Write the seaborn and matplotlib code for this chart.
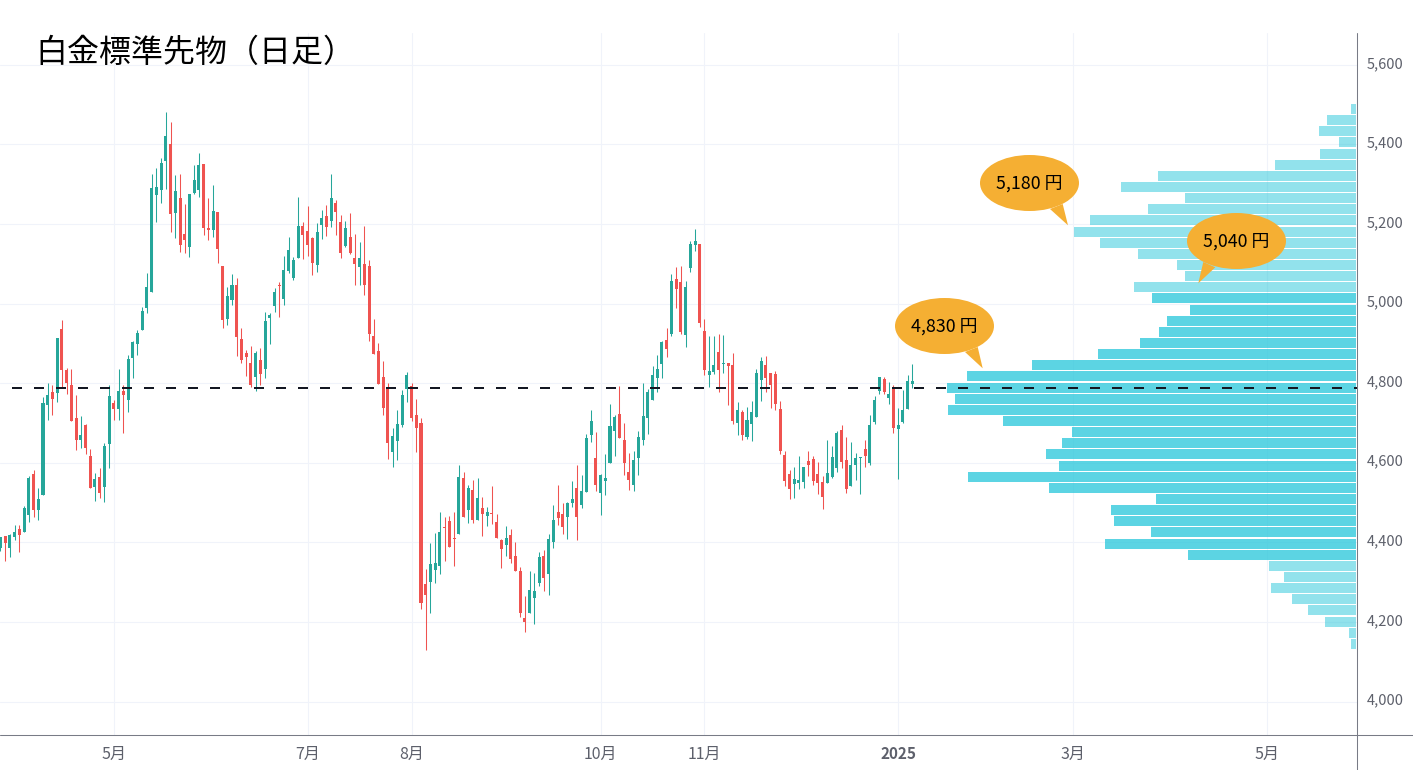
import pandas as pd
import seaborn as sns
import matplotlib.pyplot as plt
from matplotlib.patches import Ellipse, Polygon
from matplotlib.transforms import ScaledTranslation

opens = [4386,4415,4386,4414,4433,4425,4468,4571,4481,4518,
         4745,4777,4775,4936,4832,4795,4712,4657,4694,4616,
         4539,4564,4539,4647,4750,4735,4780,4757,4863,4898,
         4933,4988,5028,5272,5285,5358,5400,5227,5265,5174,
         5142,5277,5285,5350,5189,5184,5229,5094,4961,5008,
         5046,4910,4875,4850,4815,4858,4835,4963,4993,5046,
         5011,5081,5064,5114,5194,5182,5164,5096,5197,5219,
         5207,5252,5204,5144,5167,5114,5091,5099,5094,4918,
         4880,4815,4787,4626,4654,4694,4785,4792,4719,4699,
         4295,4300,4330,4340,4438,4453,4410,4420,4561,4481,
         4531,4456,4486,4466,4473,4451,4405,4393,4418,4365,
         4327,4209,4222,4260,4297,4365,4320,4400,4476,4471,
         4463,4498,4536,4493,4526,4669,4611,4523,4554,4599,
         4679,4722,4657,4576,4544,4611,4657,4712,4757,4812,
         4848,4908,4923,5061,5054,4920,5089,5147,5149,4930,
         4820,4827,4878,4848,4850,4845,4699,4727,4664,4697,
         4714,4807,4845,4825,4822,4735,4619,4571,4546,4549,
         4551,4604,4609,4571,4551,4549,4564,4586,4682,4606,
         4541,4594,4611,4634,4599,4702,4780,4810,4762,4790,
         4684,4702,4735,4797]
highs = [4413,4415,4420,4443,4443,4491,4566,4581,4536,4765,
         4800,4795,4913,4958,4838,4835,4770,4717,4697,4634,
         4574,4586,4649,4795,4757,4835,4795,4870,4905,4933,
         4991,5076,5325,5340,5365,5481,5456,5322,5325,5250,
         5275,5348,5378,5350,5265,5297,5229,5094,5041,5074,
         5064,4938,4883,4893,4880,4888,4978,4976,5039,5054,
         5119,5167,5116,5267,5204,5245,5167,5202,5235,5247,
         5325,5260,5222,5207,5227,5174,5154,5194,5109,4961,
         4900,4855,4800,4687,4732,4782,4827,4800,4760,4712,
         4333,4398,4423,4476,4463,4466,4476,4594,4576,4544,
         4556,4561,4513,4488,4541,4471,4408,4441,4433,4400,
         4338,4265,4327,4322,4375,4380,4420,4493,4544,4498,
         4501,4554,4594,4569,4672,4732,4677,4571,4621,4747,
         4719,4792,4699,4624,4629,4679,4800,4785,4843,4870,
         4905,4938,5074,5091,5094,5056,5157,5187,5149,4961,
         4918,4918,4923,4920,4850,4875,4752,4732,4740,4755,
         4835,4865,4868,4825,4830,4755,4629,4581,4589,4616,
         4589,4629,4616,4601,4566,4657,4642,4679,4694,4664,
         4652,4624,4614,4657,4719,4767,4815,4815,4802,4795,
         4737,4782,4820,4848]
lows = [4379,4353,4364,4405,4376,4425,4451,4463,4456,4518,
        4707,4719,4752,4787,4772,4704,4632,4637,4621,4536,
        4503,4511,4501,4586,4707,4707,4674,4727,4812,4870,
        4933,4976,5028,5204,5252,5287,5179,5164,5129,5126,
        5116,5275,5267,5172,5159,5167,5101,4938,4946,4996,
        4868,4850,4817,4790,4780,4795,4812,4898,4978,4966,
        4996,5076,5059,5114,5111,5119,5071,5079,5162,5169,
        5192,5172,5114,5142,5124,5046,5046,5021,4905,4873,
        4797,4719,4609,4589,4606,4689,4752,4704,4626,4232,
        4129,4222,4297,4320,4353,4388,4340,4420,4463,4448,
        4448,4456,4415,4441,4446,4410,4335,4365,4348,4327,
        4212,4174,4222,4194,4290,4277,4267,4385,4443,4420,
        4408,4488,4405,4486,4526,4652,4528,4468,4518,4599,
        4616,4662,4569,4531,4528,4569,4644,4672,4757,4777,
        4812,4865,4918,4988,4923,4890,5079,5131,4941,4820,
        4790,4822,4777,4825,4745,4697,4669,4657,4659,4654,
        4714,4755,4777,4737,4732,4621,4541,4508,4511,4534,
        4536,4566,4544,4521,4483,4549,4561,4576,4586,4523,
        4541,4556,4521,4589,4594,4697,4772,4772,4747,4674,
        4559,4699,4735,4787]
closes = [4413,4399,4418,4425,4418,4486,4561,4481,4508,4750,
          4770,4760,4913,4832,4800,4704,4657,4669,4637,4536,
          4559,4523,4642,4767,4735,4780,4770,4860,4903,4925,
          4981,5041,5290,5292,5353,5420,5224,5282,5147,5159,
          5275,5310,5348,5189,5184,5232,5137,4958,5018,5046,
          4915,4858,4865,4795,4875,4822,4956,4971,5028,5044,
          5084,5134,5109,5194,5172,5147,5101,5179,5214,5192,
          5265,5229,5126,5189,5126,5099,5114,5046,4923,4873,
          4797,4737,4649,4667,4697,4770,4820,4712,4687,4247,
          4267,4345,4348,4425,4436,4388,4408,4564,4463,4536,
          4456,4511,4471,4476,4471,4410,4383,4410,4358,4327,
          4222,4199,4280,4277,4363,4310,4408,4456,4461,4438,
          4498,4508,4463,4528,4662,4704,4544,4569,4561,4692,
          4714,4662,4599,4556,4606,4664,4717,4777,4820,4835,
          4903,4885,5056,5036,4928,5041,5149,5157,4951,4832,
          4830,4845,4832,4850,4843,4704,4732,4669,4707,4727,
          4825,4855,4812,4795,4747,4629,4554,4534,4559,4556,
          4589,4594,4554,4549,4513,4574,4614,4674,4601,4534,
          4594,4611,4614,4616,4694,4757,4815,4777,4772,4687,
          4694,4732,4805,4805]

# Volume profile, top row first
profile_prices = [5489,5461,5433,5405,5377,5349,5321,5293,5265,5237,
                  5209,5181,5153,5125,5097,5069,5041,5013,4985,4957,
                  4929,4901,4873,4845,4817,4789,4761,4733,4705,4677,
                  4649,4621,4593,4565,4537,4509,4481,4453,4425,4397,
                  4369,4341,4313,4285,4257,4229,4201,4173,4145]
profile_volumes = [5.3,29.3,37.3,17.3,36.3,81.3,198.3,235.3,171.3,208.3,
                   266.3,282.3,256.3,218.3,179.3,171.3,222.3,204.3,166.3,189.3,
                   197.3,216.3,258.3,324.3,389.3,409.3,401.3,408.3,353.3,284.3,
                   294.3,310.3,297.3,388.3,307.3,200.3,245.3,242.3,205.3,251.3,
                   168.3,87.3,72.3,85.3,64.3,48.3,31.3,7.3,5.3]
value_area = [False]*17 + [True]*24 + [False]*8

month_pos = [25, 66, 88, 128, 150, 191, 228, 269]
month_labels = ["5月", "7月", "8月", "10月", "11月", "2025", "3月", "5月"]
price_ticks = [4000, 4200, 4400, 4600, 4800, 5000, 5200, 5400, 5600]
support_level = 4788
callout_labels = ["5,180 円", "5,040 円", "4,830 円"]

UP = "#26a69a"
DOWN = "#ef5350"
GRID = "#f0f3fa"
AXIS = "#787b86"
TEXT = "#5d606b"
GOLD = "#f5af33"

sns.set_theme(style="white")
plt.rcParams["font.family"] = ["Noto Sans CJK JP", "DejaVu Sans"]

df = pd.DataFrame({"open": opens, "high": highs, "low": lows, "close": closes})
df["x"] = range(1, len(df) + 1)
df["color"] = [UP if c >= o else DOWN for o, c in zip(df["open"], df["close"])]

profile = pd.DataFrame({"price": profile_prices, "volume": profile_volumes, "inside": value_area})

fig = plt.figure(figsize=(14.13, 7.7), dpi=100)
ax = fig.add_axes([0, 35 / 770, 1357 / 1413, 702 / 770])

# candles
ax.vlines(df["x"], df["low"], df["high"], colors=df["color"], linewidth=0.75, zorder=3)
ax.bar(df["x"], (df["close"] - df["open"]).abs(), bottom=df[["open", "close"]].min(axis=1),
       width=0.64, color=df["color"], linewidth=0, zorder=4)

ax.set_xlim(0.9, 288.1)
ax.set_ylim(3916, 5680)
ax.set_xticks(month_pos)
ax.set_xticklabels(month_labels)
ax.set_yticks(price_ticks)
ax.set_yticklabels([f"{p:,}" for p in price_ticks])
ax.yaxis.tick_right()
ax.tick_params(axis="x", length=0, pad=8, labelsize=11.5, labelcolor=TEXT)
ax.tick_params(axis="y", length=0, pad=7, labelsize=10.5, labelcolor=TEXT)
ax.get_xticklabels()[5].set_fontweight("bold")
ax.get_xticklabels()[5].set_fontsize(11)
nudge = ScaledTranslation(0, 2.5 / 100, fig.dpi_scale_trans)
for label in ax.get_yticklabels():
    label.set_transform(label.get_transform() + nudge)
ax.grid(True, color=GRID, linewidth=0.75)
ax.set_axisbelow(True)
sns.despine(ax=ax, left=True, bottom=True, right=True, top=True)

# volume profile hangs off the right edge
ax2 = ax.twiny()
ax2.patch.set_visible(False)
sns.barplot(data=profile[profile["inside"]], x="volume", y="price", orient="y", native_scale=True,
            color="#26c6da", saturation=1, alpha=0.75, width=0.9, linewidth=0, ax=ax2)
sns.barplot(data=profile[~profile["inside"]], x="volume", y="price", orient="y", native_scale=True,
            color="#26c6da", saturation=1, alpha=0.5, width=0.9, linewidth=0, ax=ax2)
ax2.set_xlim(1356.3, -0.7)
ax2.set_ylim(3916, 5680)
ax2.set_xticks([])
ax2.set_xlabel("")
ax2.set_ylabel("")
ax2.yaxis.tick_right()
ax2.tick_params(axis="y", right=False, labelright=False)
sns.despine(ax=ax2, left=True, bottom=True, right=True, top=True)
ax2.axhline(support_level, xmin=12 / 1357, xmax=1, color="#131722", linewidth=1.44, dashes=(5, 6), zorder=6)

# overlay in pixel coordinates for axis lines, title and callouts
over = fig.add_axes([0, 0, 1, 1], zorder=10)
over.set_xlim(0, 1413)
over.set_ylim(770, 0)
over.axis("off")
over.plot([1357, 1357], [33, 770], color=AXIS, linewidth=0.75)
over.plot([0, 1413], [735, 735], color=AXIS, linewidth=0.75)
over.text(35, 53, "白金標準先物（日足）", fontsize=23, color="black", va="center", ha="left")

bubbles = [((1029.5, 183), [(1050, 209), (1062.7, 204), (1068, 225.3)]),
           ((1236.5, 241), [(1203.3, 262), (1215.3, 267.3), (1198.3, 283.3)]),
           ((944.5, 326), [(965, 352), (977.7, 347), (982.7, 368.3)])]
for (center, tail), label in zip(bubbles, callout_labels):
    over.add_patch(Ellipse(center, 99, 56, facecolor=GOLD, edgecolor="none"))
    over.add_patch(Polygon(tail, closed=True, facecolor=GOLD, edgecolor="none"))
    over.text(center[0], center[1] + 1, label, fontsize=12.8, color="black", ha="center", va="center")

fig.savefig("out.png", dpi=100)
